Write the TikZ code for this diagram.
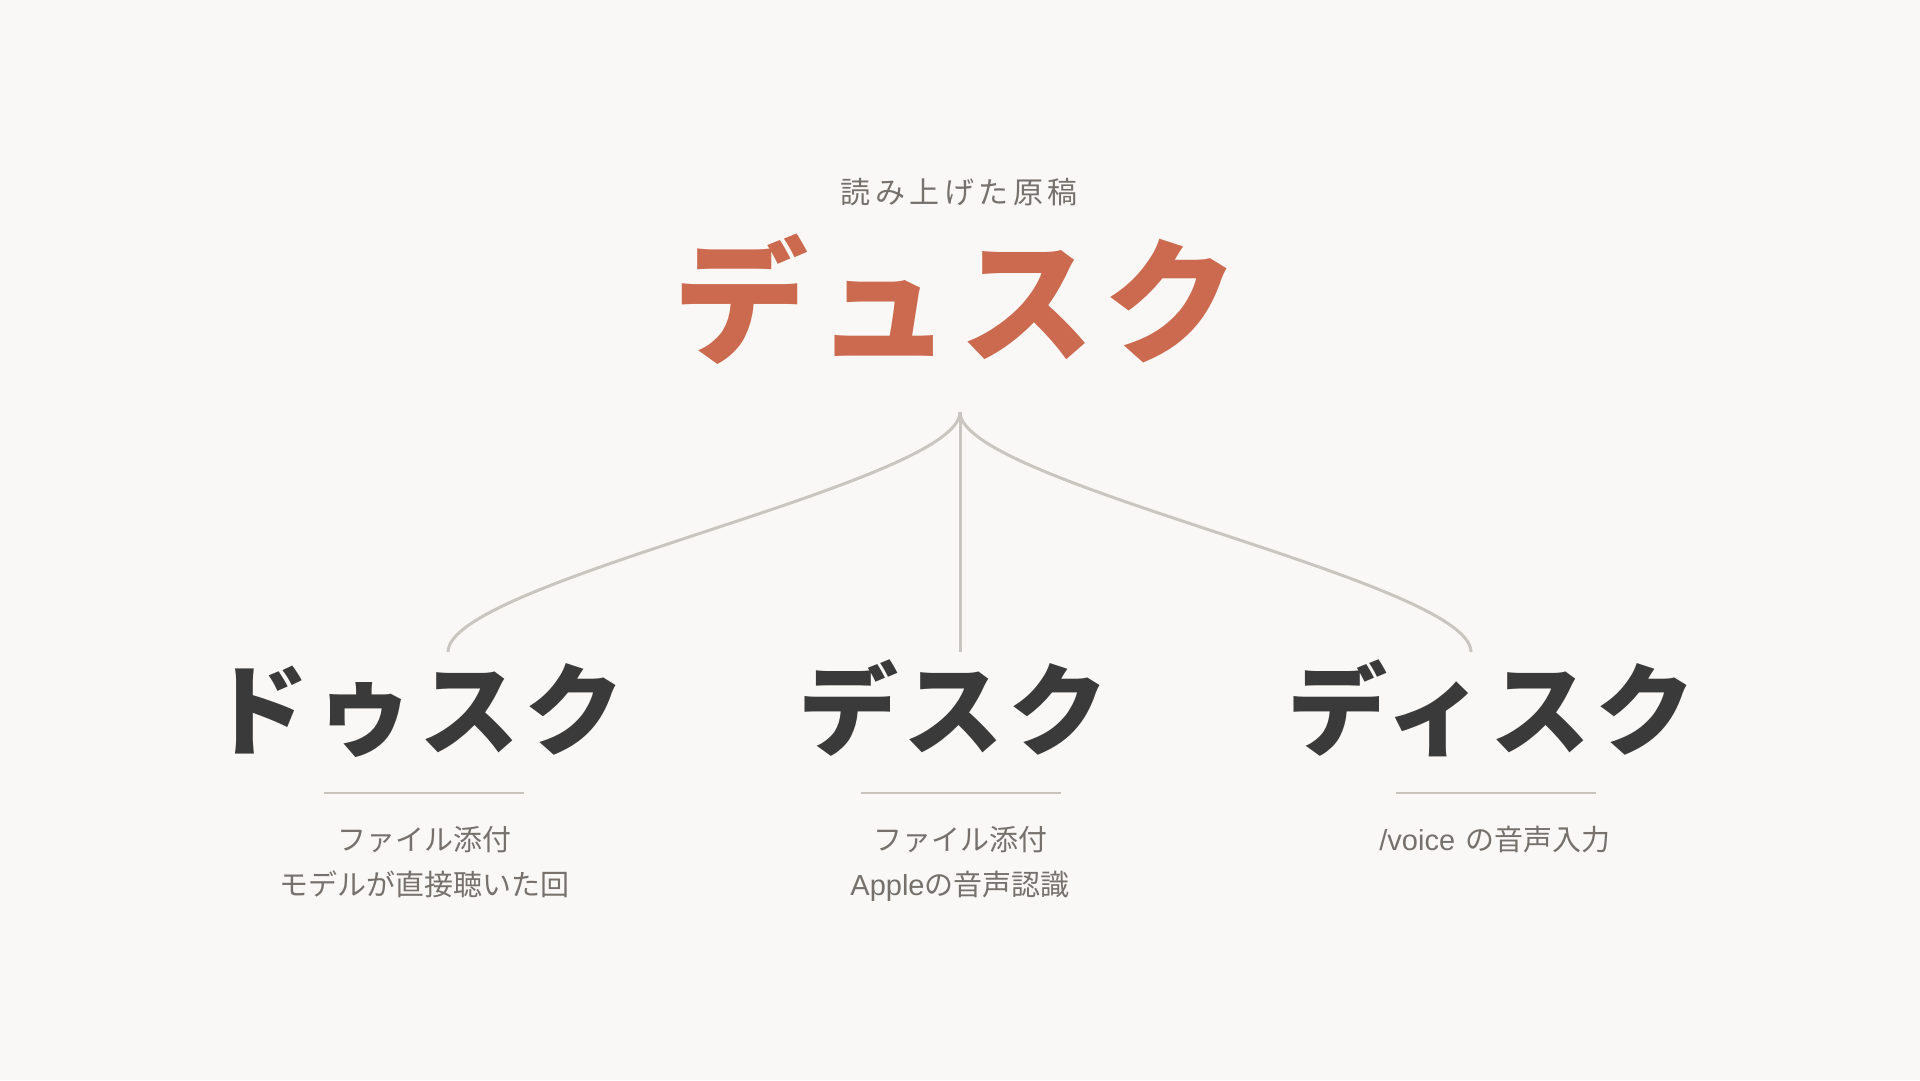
\documentclass[tikz,border=0pt]{standalone}
\usepackage{fontspec}
\setmainfont{Noto Sans CJK JP}
\newfontfamily\latinfont{Liberation Sans}
\definecolor{bgcol}{HTML}{F9F8F6}
\definecolor{accentcol}{HTML}{CC6A4F}
\definecolor{wordcol}{HTML}{3A3A3A}
\definecolor{notecol}{HTML}{76716D}
\definecolor{linecol}{HTML}{C9C5C1}
\definecolor{rulecol}{HTML}{C9C3BE}
\begin{document}
\begin{tikzpicture}[x=1pt, y=-1pt,
  word/.style={inner sep=0pt, anchor=base, text=wordcol,
    font=\fontsize{100}{100}\selectfont\bfseries\addfontfeature{LetterSpace=5}},
  note/.style={inner sep=0pt, anchor=base, align=center, text=notecol,
    font=\fontsize{29}{45}\selectfont},
  branch/.style={draw=linecol, line width=3pt},
  rule/.style={draw=rulecol, line width=2pt}]

% background
\fill[bgcol] (0,0) rectangle (1920,1080);
\useasboundingbox (0,0) rectangle (1920,1080);

% figure title and source word
\node[inner sep=0pt, anchor=base, text=notecol, font=\fontsize{30}{30}\selectfont\addfontfeature{LetterSpace=15}] at (959, 203) (rdtitle) {読み上げた原稿};
\node[word, text=accentcol, font=\fontsize{135}{135}\selectfont\bfseries\addfontfeature{LetterSpace=6}] at (956, 352) (rdword) {デュスク};

% branch points
\coordinate (srcpt) at (960, 412);
\coordinate (dusend) at (448, 652);
\coordinate (desend) at (960, 652);
\coordinate (disend) at (1471, 652);
\draw[branch] (srcpt) .. controls +(0,71) and +(0,-71) .. (dusend);
\draw[branch] (srcpt) -- (desend);
\draw[branch] (srcpt) .. controls +(0,71) and +(0,-71) .. (disend);

% left: dusuku (base is the last line)
\node[word] at (417, 747) (dusword) {ドゥスク};
\draw[rule] (324, 793) -- (524, 793);
\node[note] at (424, 895) (dusnote) {ファイル添付\\モデルが直接聴いた回};

% middle: desuku
\node[word] at (953, 747) (desword) {デスク};
\draw[rule] (861, 793) -- (1061, 793);
\node[note] at (960, 895) (desnote) {ファイル添付\\{\latinfont Apple}の音声認識};

% right: disuku
\node[word] at (1491, 747) (disword) {ディスク};
\draw[rule] (1396, 793) -- (1596, 793);
\node[note] at (1495, 850) (disnote) {{\latinfont /voice}\hspace{4pt} の音声入力};

\end{tikzpicture}
\end{document}
